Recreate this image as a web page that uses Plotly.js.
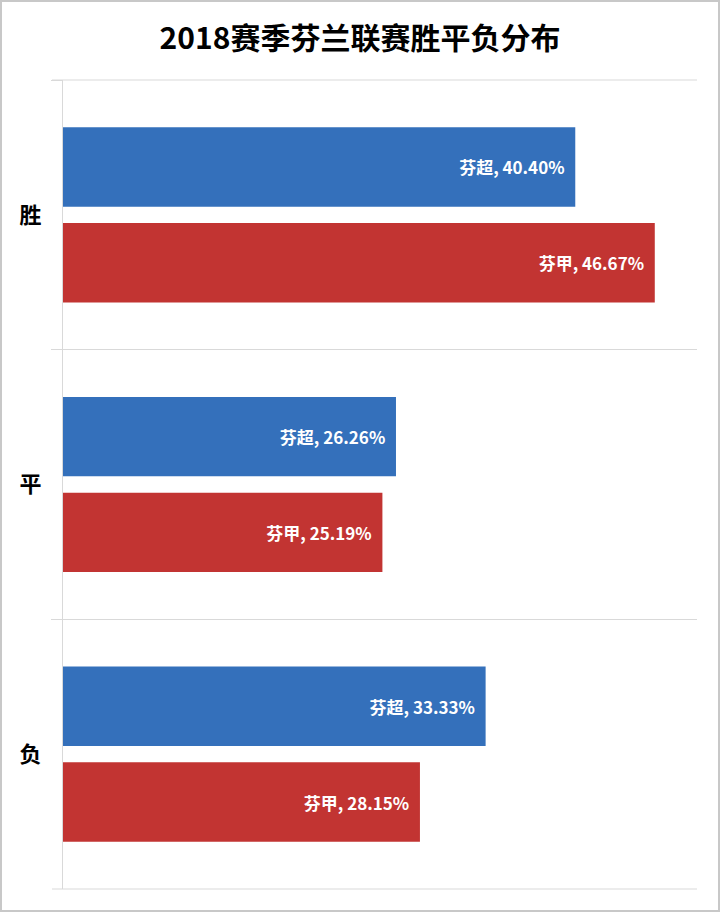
<!DOCTYPE html>
<html>
<head>
<meta charset="utf-8">
<script src="https://cdn.plot.ly/plotly-3.0.1.min.js"></script>
<style>
  html, body { margin: 0; padding: 0; background: #ffffff; }
  #chart { width: 720px; height: 912px; }
  #frame { position: absolute; left: 0; top: 0; width: 720px; height: 912px; box-sizing: border-box; border: 2px solid #c8c8c8; pointer-events: none; }
</style>
</head>
<body>
<div id="chart"></div>
<div id="frame"></div>
<script>
const categories = ['胜', '平', '负'];
const seriesNames = ['芬超', '芬甲'];
const superLeague = [40.40, 26.26, 33.33];
const firstDivision = [46.67, 25.19, 28.15];
const seriesColors = ['#3470bb', '#c23432'];

const CJK = '"Noto Sans CJK SC", "Noto Sans", sans-serif';

function makeTrace(name, values, color) {
  return {
    type: 'bar',
    orientation: 'h',
    name: name,
    y: categories,
    x: values,
    marker: { color: color, line: { width: 0 } },
    texttemplate: name + ', %{x:.2f}%\u00a0\u00a0',
    textposition: 'inside',
    insidetextanchor: 'end',
    textangle: 0,
    insidetextfont: { family: CJK, size: 17, color: '#ffffff', weight: 'bold' },
    hoverinfo: 'skip'
  };
}

const data = [
  makeTrace(seriesNames[0], superLeague, seriesColors[0]),
  makeTrace(seriesNames[1], firstDivision, seriesColors[1])
];

const gridColor = '#d9d9d9';
const tickOut = -11 / 634;

const layout = {
  width: 720,
  height: 912,
  paper_bgcolor: '#ffffff',
  plot_bgcolor: '#ffffff',
  margin: { l: 63, r: 23, t: 80, b: 23 },
  showlegend: false,
  barmode: 'group',
  bargap: 0.29,
  bargroupgap: 0.17,
  title: {
    text: '2018赛季芬兰联赛胜平负分布',
    x: 0.5,
    xanchor: 'center',
    y: 1 - 38 / 912,
    yanchor: 'middle',
    font: { family: CJK, size: 30, color: '#000000', weight: 'bold' }
  },
  xaxis: {
    range: [0, 50],
    showgrid: false,
    zeroline: false,
    showticklabels: false,
    ticks: '',
    showline: false,
    fixedrange: true
  },
  yaxis: {
    type: 'category',
    categoryorder: 'array',
    categoryarray: categories,
    autorange: 'reversed',
    tickson: 'boundaries',
    ticks: 'outside',
    ticklen: 11,
    tickcolor: gridColor,
    showgrid: true,
    gridcolor: gridColor,
    gridwidth: 1,
    showline: true,
    linecolor: gridColor,
    linewidth: 1,
    zeroline: false,
    ticklabelstandoff: 16,
    tickfont: { family: CJK, size: 22, color: '#000000', weight: 'bold' },
    fixedrange: true
  },
  shapes: [
    { type: 'line', xref: 'paper', yref: 'paper', x0: tickOut, x1: 1, y0: 1, y1: 1, line: { color: gridColor, width: 1 }, layer: 'below' },
    { type: 'line', xref: 'paper', yref: 'paper', x0: tickOut, x1: 1, y0: 0, y1: 0, line: { color: gridColor, width: 1 }, layer: 'below' }
  ]
};

Plotly.newPlot('chart', data, layout, { displayModeBar: false, staticPlot: true });
</script>
</body>
</html>
